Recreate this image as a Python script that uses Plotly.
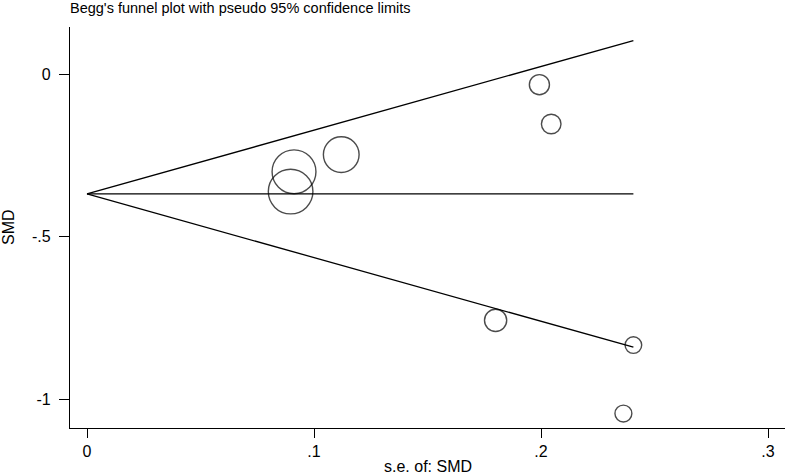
import plotly.graph_objects as go

# Data
se = [0.0897, 0.0912, 0.112, 0.180, 0.1993, 0.2045, 0.2363, 0.2407]
smd = [-0.361, -0.300, -0.247, -0.757, -0.032, -0.153, -1.044, -0.833]
pooled = -0.368
z = 1.96
x_ticks = [0, 0.1, 0.2, 0.3]
x_tick_labels = ["0", ".1", ".2", ".3"]
y_ticks = [0, -0.5, -1]
y_tick_labels = ["0", "-.5", "-1"]

max_se = max(se)
sizes = [4.0 / s for s in se]

fig = go.Figure()
line_style = dict(color="black", width=1.3)
fig.add_trace(go.Scatter(x=[0, max_se], y=[pooled, pooled + z * max_se], mode="lines",
                         line=line_style, hoverinfo="skip", showlegend=False))
fig.add_trace(go.Scatter(x=[0, max_se], y=[pooled, pooled], mode="lines",
                         line=line_style, hoverinfo="skip", showlegend=False))
fig.add_trace(go.Scatter(x=[0, max_se], y=[pooled, pooled - z * max_se], mode="lines",
                         line=line_style, hoverinfo="skip", showlegend=False))
fig.add_trace(go.Scatter(x=se, y=smd, mode="markers",
                         marker=dict(size=sizes, color="rgba(0,0,0,0)",
                                     line=dict(color="black", width=1.4)),
                         showlegend=False))

fam = "Liberation Sans, Arial, Helvetica, sans-serif"
font = dict(family=fam, size=16, color="black")
title_font = dict(family=fam, size=14.5, color="black")

fig.update_layout(
    width=785, height=474,
    margin=dict(l=70, r=0, t=27, b=46),
    paper_bgcolor="white", plot_bgcolor="white",
    font=font,
    title=dict(text="Begg's funnel plot with pseudo 95% confidence limits",
               xref="container", yref="container", x=70 / 785, xanchor="left",
               y=1 - 8 / 474, yanchor="middle", font=title_font),
    xaxis=dict(range=[-0.00749, 0.30749], tickvals=x_ticks, ticktext=x_tick_labels,
               showgrid=False, zeroline=False, showline=True, linecolor="black", linewidth=1.3,
               ticks="outside", ticklen=9, tickwidth=1.3, tickcolor="black",
               ticklabelstandoff=0, tickfont=font),
    yaxis=dict(range=[-1.0883, 0.1455], tickvals=y_ticks, ticktext=y_tick_labels,
               showgrid=False, zeroline=False, showline=True, linecolor="black", linewidth=1.3,
               ticks="outside", ticklen=10, tickwidth=1.3, tickcolor="black",
               ticklabelstandoff=5, tickfont=font),
    annotations=[
        dict(text="s.e. of: SMD", xref="paper", yref="paper", x=0.5, y=(428 - 466) / 401,
             xanchor="center", yanchor="middle", showarrow=False, font=font),
        dict(text="SMD", xref="paper", yref="paper", x=(8.5 - 70) / 715, y=0.5,
             xanchor="center", yanchor="middle", showarrow=False, textangle=-90, font=font),
    ],
)

fig.write_html("out.html", config={"displayModeBar": False},
               post_script="document.body.style.margin='0';document.body.style.overflow='hidden';")
